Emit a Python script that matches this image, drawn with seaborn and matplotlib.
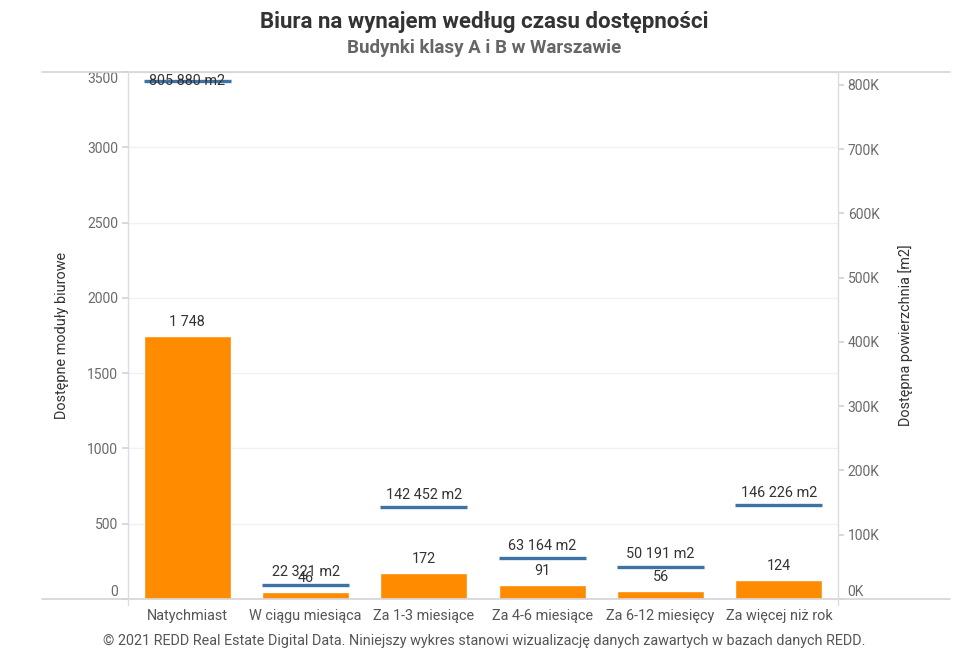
import matplotlib
matplotlib.use("Agg")
import matplotlib.pyplot as plt
from matplotlib.lines import Line2D
from matplotlib.ticker import FixedLocator, FuncFormatter
import seaborn as sns
import pandas as pd

# data
categories = ["Natychmiast", "W ciągu miesiąca", "Za 1-3 miesiące",
              "Za 4-6 miesiące", "Za 6-12 miesięcy", "Za więcej niż rok"]
modules = [1748, 46, 172, 91, 56, 124]
area_m2 = [805880, 22321, 142452, 63164, 50191, 146226]
left_ticks = [0, 500, 1000, 1500, 2000, 2500, 3000, 3500]
right_ticks = [0, 100000, 200000, 300000, 400000, 500000, 600000, 700000, 800000]

# esthetics
orange = "#FF8B00"
blue = "#3D72A6"
grey_txt = "#6a6a6a"
dark_txt = "#333333"
line_col = "#d4d4d4"
bar_width = 0.735
font_size = 10

sns.set_theme(style="white")
plt.rcParams["font.family"] = ["Roboto", "DejaVu Sans"]

df = pd.DataFrame({"Kategoria": categories, "Moduly": modules, "Powierzchnia": area_m2})

fig = plt.figure(figsize=(9.68, 6.72), dpi=100)
ax = fig.add_axes([128 / 968, 73 / 672, 710 / 968, 527 / 672])

sns.barplot(data=df, x="Kategoria", y="Moduly", color=orange, saturation=1,
            width=bar_width, ax=ax, zorder=2)
ax.set_ylim(0, 3500)
ax.set_xlim(-0.5, len(categories) - 0.5)
ax.set_xlabel("")
ax.set_ylabel("Dostępne moduły biurowe", fontsize=font_size + 0.4, color=dark_txt, labelpad=13)
ax.yaxis.set_major_locator(FixedLocator(left_ticks))
ax.grid(axis="y", color="#f1f1f1", linewidth=1, zorder=0)
ax.tick_params(axis="y", length=4, color=line_col, labelcolor=grey_txt, labelsize=font_size, pad=3)
ax.tick_params(axis="x", length=0, labelcolor="#555555", labelsize=font_size + 0.4, pad=7)
ax.set_xticks([i + 0.5 for i in range(-1, len(categories))], minor=True)
ax.tick_params(axis="x", which="minor", length=5, color="#e6e6e6", width=1)
tl = ax.get_yticklabels()
tl[0].set_va("bottom")
tl[-1].set_va("top")

for i, v in enumerate(modules):
    ax.annotate(f"{v:,}".replace(",", " "), (i, v), xytext=(0, 10), textcoords="offset points",
                ha="center", va="center", fontsize=font_size + 0.4, color=dark_txt, zorder=5)

ax2 = ax.twinx()
ax2.set_ylim(0, 820000)
ax2.hlines(area_m2, [i - bar_width / 2 for i in range(len(categories))],
           [i + bar_width / 2 for i in range(len(categories))], color=blue, linewidth=2.4, zorder=3)
ax2.yaxis.set_major_locator(FixedLocator(right_ticks))
ax2.yaxis.set_major_formatter(FuncFormatter(lambda v, p: f"{int(v / 1000)}K"))
ax2.tick_params(axis="y", length=4, color=line_col, labelcolor=grey_txt, labelsize=font_size, pad=3)
ax2.get_yticklabels()[0].set_va("bottom")
ax2.set_ylabel("Dostępna powierzchnia [m2]", fontsize=font_size + 0.4, color=dark_txt, labelpad=13)

px = 820000 / 527
for i, v in enumerate(area_m2):
    off = 9 if v + 13 * px < 820000 else 0
    ax2.annotate(f"{v:,} m2".replace(",", " "), (i, v), xytext=(0, off), textcoords="offset points",
                 ha="center", va="center", fontsize=font_size + 0.4, color=dark_txt, zorder=5)

for a in (ax, ax2):
    for s in a.spines.values():
        s.set_visible(False)

# frame lines like the reference
for y in (72, 599):
    fig.add_artist(Line2D([42 / 968, 950 / 968], [1 - y / 672, 1 - y / 672], color=line_col, linewidth=1.2))
for x in (128, 838):
    fig.add_artist(Line2D([x / 968, x / 968], [1 - 72 / 672, 1 - 605 / 672], color="#dcdcdc", linewidth=1))

fig.text(0.5, 1 - 22 / 672, "Biura na wynajem według czasu dostępności", ha="center", va="center",
         fontsize=16, fontweight="bold", color=dark_txt)
fig.text(0.5, 1 - 48 / 672, "Budynki klasy A i B w Warszawie", ha="center", va="center",
         fontsize=13.5, fontweight="bold", color="#666666")
fig.text(0.5, 1 - 641 / 672,
         "© 2021 REDD Real Estate Digital Data. Niniejszy wykres stanowi wizualizację danych zawartych w bazach danych REDD.",
         ha="center", va="center", fontsize=10.4, color="#555555")

fig.savefig("out.png", dpi=100)
